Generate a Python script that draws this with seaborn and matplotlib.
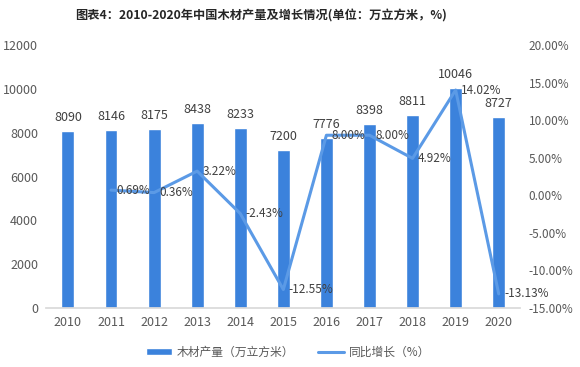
import numpy as np
import pandas as pd
import seaborn as sns
import matplotlib
matplotlib.use("Agg")
import matplotlib.pyplot as plt
from matplotlib.patches import Patch
from matplotlib.lines import Line2D

# data
years = ["2010", "2011", "2012", "2013", "2014", "2015", "2016", "2017", "2018", "2019", "2020"]
output = [8090, 8146, 8175, 8438, 8233, 7200, 7776, 8398, 8811, 10046, 8727]
growth_years = ["2011", "2012", "2013", "2014", "2015", "2016", "2017", "2018", "2019", "2020"]
growth = [0.69, 0.36, 3.22, -2.43, -12.55, 8.00, 8.00, 4.92, 14.02, -13.13]

bar_color = "#3b82dc"
line_color = "#5b9ae6"

sns.set_theme(style="white")
plt.rcParams['font.family'] = ['Noto Sans CJK SC', 'DejaVu Sans']
plt.rcParams['axes.unicode_minus'] = False

df_bar = pd.DataFrame({"year": years, "output": output})
df_line = pd.DataFrame({"x": [years.index(y) for y in growth_years], "growth": growth})

fig = plt.figure(figsize=(5.8, 3.67), dpi=100)
ax = fig.add_axes([0.08, 0.161, 0.817, 0.716])

sns.barplot(data=df_bar, x="year", y="output", color=bar_color, width=0.3,
            saturation=1, ax=ax)
ax.set_ylim(0, 12000)
ax.set_yticks(np.arange(0, 12001, 2000))
ax.set_xlabel("")
ax.set_ylabel("")
ax.tick_params(axis="both", labelsize=9, colors="#595959", length=0, pad=6)
for s in ["top", "left", "right"]:
    ax.spines[s].set_visible(False)
ax.spines["bottom"].set_color("#d9d9d9")

for i, v in enumerate(output):
    ax.annotate(str(v), (i, v), xytext=(0, 5), textcoords="offset points",
                ha="center", va="bottom", fontsize=9, color="#404040")

ax2 = ax.twinx()
sns.lineplot(data=df_line, x="x", y="growth", color=line_color, linewidth=2.2, ax=ax2)
ax2.set_ylim(-15, 20)
ax2.set_yticks(np.arange(-15, 20.1, 5))
ax2.set_yticklabels([f"{t:.2f}%" for t in np.arange(-15, 20.1, 5)])
ax2.set_xlim(-0.5, 10.5)
ax2.set_xlabel("")
ax2.set_ylabel("")
ax2.tick_params(axis="y", labelsize=8.5, colors="#595959", length=0, pad=6)
for s in ["top", "left", "right", "bottom"]:
    ax2.spines[s].set_visible(False)

for xi, g in zip(df_line["x"], growth):
    ax2.annotate(f"{g:.2f}%", (xi, g), xytext=(4, 0), textcoords="offset points",
                 ha="left", va="center", fontsize=8.5, color="#404040")

fig.suptitle("图表4：2010-2020年中国木材产量及增长情况(单位：万立方米，%)",
             x=0.45, y=0.975, fontsize=8.8, fontweight="bold", color="#262626")

handles = [Patch(facecolor=bar_color, label="木材产量（万立方米）"),
           Line2D([0], [0], color=line_color, linewidth=2.2, label="同比增长（%）")]
fig.legend(handles=handles, loc="center", bbox_to_anchor=(0.497, 0.04), ncol=2,
           frameon=False, fontsize=8.5, handlelength=2.2, handleheight=0.5,
           handletextpad=0.4, columnspacing=2.0, labelcolor="#595959")

fig.savefig("out.png", dpi=100)
